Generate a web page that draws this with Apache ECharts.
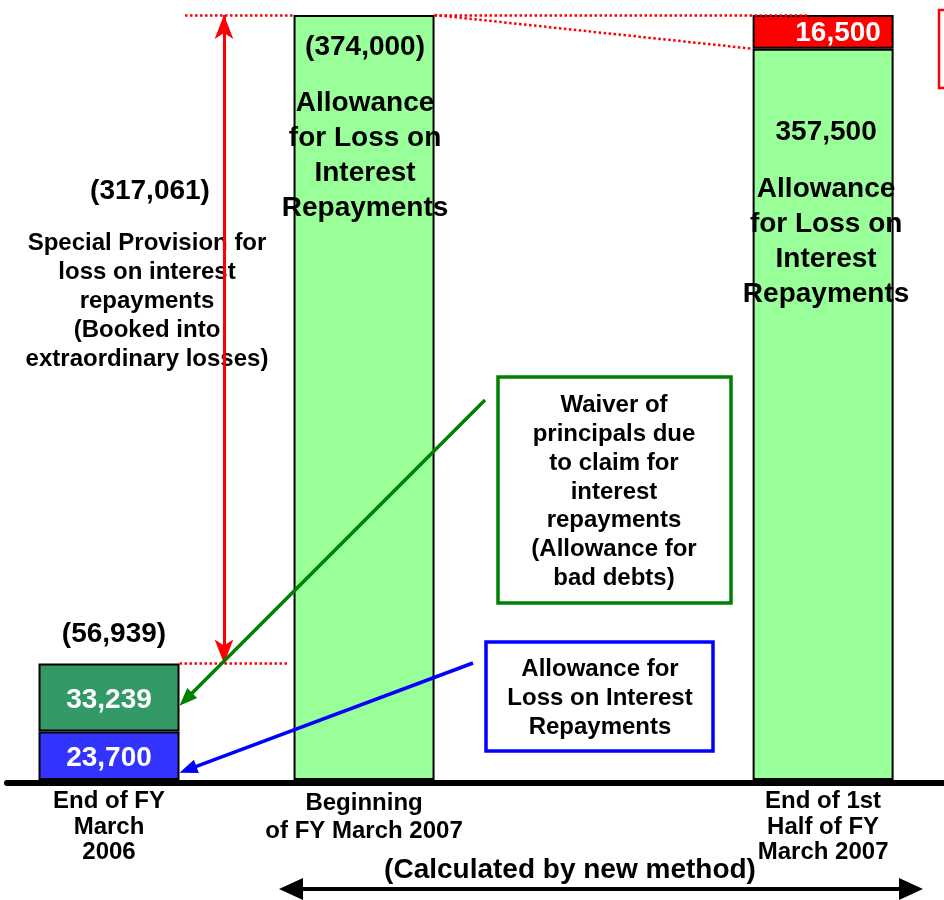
<!DOCTYPE html>
<html>
<head>
<meta charset="utf-8">
<script src="https://cdn.jsdelivr.net/npm/echarts@6/dist/echarts.min.js"></script>
<style>
  html, body { margin: 0; padding: 0; background: #fff; }
  #chart { width: 944px; height: 900px; }
</style>
</head>
<body>
<div id="chart"></div>
<script>
// Allowance balances (million yen) at three reporting dates
const categories = [
  'End of FY\nMarch\n2006',
  'Beginning\nof FY March 2007',
  'End of 1st\nHalf of FY\nMarch 2007'
];
const interestAllowanceOld = [23700, '-', '-'];      // blue segment
const badDebtAllowance     = [33239, '-', '-'];      // dark green segment
const interestAllowanceNew = ['-', 374000, 357500];  // light green bars
const reversalAmount       = ['-', '-', 16500];      // red segment

// Layout: slot of each date on the horizontal axis, bar half width in axis units
const SLOT = [0, 5, 14];
const X_MIN = -2, X_MAX = 16.37;
const BAR_PX = 141;
const HALF = (BAR_PX / 2) / (937 / (X_MAX - X_MIN));

const FONT = '"Liberation Sans", Arial, sans-serif';
const fmt = v => Number(v).toLocaleString('en-US');

const total2006 = interestAllowanceOld[0] + badDebtAllowance[0];
const totalNew = interestAllowanceNew[1];
const specialProvision = totalNew - total2006;

// Rows are [amount, slot] so the amount is the stacked dimension
const rows = arr => arr.map((v, i) => [v, SLOT[i]]);
const ENCODE = { x: 1, y: 0 };

const chart = echarts.init(document.getElementById('chart'), null, { renderer: 'canvas' });

const baseBar = {
  type: 'bar',
  stack: 'total',
  barWidth: BAR_PX,
  animation: false,
  encode: ENCODE,
  itemStyle: { borderColor: '#000', borderWidth: 2 }
};

const whiteLabel = {
  show: true,
  position: 'inside',
  offset: [0, 3],
  color: '#fff',
  fontFamily: FONT,
  fontWeight: 'bold',
  fontSize: 28,
  formatter: p => fmt(p.value[0])
};

const richBlock = {
  v: { fontFamily: FONT, fontWeight: 'bold', fontSize: 28, lineHeight: 34, color: '#000' },
  s: { fontSize: 1, lineHeight: 22 },
  t: { fontFamily: FONT, fontWeight: 'bold', fontSize: 28, lineHeight: 35, color: '#000' }
};
const blockText = '{t|Allowance}\n{t|for Loss on}\n{t|Interest}\n{t|Repayments}';

const axisRich = {
  a: { fontFamily: FONT, fontWeight: 'bold', fontSize: 24, lineHeight: 25.5, color: '#000' },
  b: { fontFamily: FONT, fontWeight: 'bold', fontSize: 24, lineHeight: 28, color: '#000' }
};

chart.setOption({
  animation: false,
  grid: { left: 7, right: 0, top: 15, bottom: 120 },
  xAxis: {
    type: 'value',
    min: X_MIN,
    max: X_MAX,
    offset: 3,
    splitLine: { show: false },
    axisTick: { show: false },
    axisLine: { show: true, onZero: false, lineStyle: { color: '#000', width: 6 } },
    axisLabel: {
      customValues: SLOT,
      margin: 6,
      rich: axisRich,
      formatter: v => {
        const i = SLOT.indexOf(v);
        if (i < 0) return '';
        const key = categories[i].split('\n').length === 2 ? 'b' : 'a';
        return categories[i].split('\n').map(l => '{' + key + '|' + l + '}').join('\n');
      }
    }
  },
  yAxis: { type: 'value', min: 0, max: totalNew, show: false },
  series: [
    Object.assign({}, baseBar, {
      name: 'Allowance for Loss on Interest Repayments',
      data: rows(interestAllowanceOld),
      itemStyle: { color: '#3333ff', borderColor: '#000', borderWidth: 2 },
      label: whiteLabel,
      markLine: {
        silent: true,
        animation: false,
        symbol: ['arrow', 'arrow'],
        symbolSize: [14, 24],
        label: { show: false },
        lineStyle: { color: '#ff0000', type: 'solid', width: 3 },
        data: [[{ coord: [2.254, totalNew] }, { coord: [2.254, total2006] }]]
      }
    }),
    Object.assign({}, baseBar, {
      name: 'Allowance for bad debts',
      data: rows(badDebtAllowance),
      itemStyle: { color: '#339966', borderColor: '#000', borderWidth: 2 },
      label: whiteLabel
    }),
    Object.assign({}, baseBar, {
      name: 'Allowance for Loss on Interest Repayments (new method)',
      data: interestAllowanceNew.map((v, i) => ({
        value: [v, SLOT[i]],
        label: { distance: i === 1 ? 15 : 67, offset: [i === 1 ? 1 : 3, 0] }
      })),
      itemStyle: { color: '#99ff99', borderColor: '#000', borderWidth: 2 },
      label: {
        show: true,
        position: 'insideTop',
        align: 'center',
        formatter: p => {
          const s = p.dataIndex === 1 ? '(' + fmt(p.value[0]) + ')' : fmt(p.value[0]);
          return '{v|' + s + '}\n{s| }\n' + blockText;
        },
        rich: richBlock
      },
      markLine: {
        silent: true,
        animation: false,
        symbol: 'none',
        label: { show: false },
        lineStyle: { color: '#ff0000', type: 'dotted', width: 2.5 },
        data: [
          [{ coord: [1.49, totalNew] }, { coord: [SLOT[1] - HALF, totalNew] }],
          [{ coord: [SLOT[1] + HALF, totalNew] }, { coord: [13.74, totalNew] }],
          [{ coord: [SLOT[1] + HALF, totalNew] }, { coord: [SLOT[2] - HALF, interestAllowanceNew[2]] }],
          [{ coord: [SLOT[0] + HALF, total2006] }, { coord: [3.49, total2006] }]
        ]
      }
    }),
    Object.assign({}, baseBar, {
      name: 'Reversal',
      data: rows(reversalAmount),
      itemStyle: { color: '#ff0000', borderColor: '#000', borderWidth: 2 },
      label: Object.assign({}, whiteLabel, { offset: [15, 1] })
    }),
    {
      type: 'scatter',
      name: 'Total',
      symbolSize: 0,
      silent: true,
      itemStyle: { opacity: 1 },
      data: [[SLOT[0], total2006]],
      label: {
        show: true,
        position: 'top',
        distance: 15,
        offset: [5, 0],
        color: '#000',
        opacity: 1,
        fontFamily: FONT,
        fontWeight: 'bold',
        fontSize: 28,
        formatter: p => '(' + fmt(p.value[1]) + ')'
      }
    }
  ]
});

// Annotation graphics: callout boxes, pointer arrows and notes
function arrowEls(x1, y1, x2, y2, color, width, headLen, headW, both) {
  const els = [];
  const ang = Math.atan2(y2 - y1, x2 - x1);
  const cos = Math.cos(ang), sin = Math.sin(ang);
  const head = (tx, ty, dir) => {
    const bx = tx - dir * cos * headLen, by = ty - dir * sin * headLen;
    return {
      type: 'polygon', z: 100,
      shape: { points: [[tx, ty], [bx - sin * headW / 2, by + cos * headW / 2], [bx + sin * headW / 2, by - cos * headW / 2]] },
      style: { fill: color }
    };
  };
  const sx = both ? x1 + cos * headLen * 0.8 : x1, sy = both ? y1 + sin * headLen * 0.8 : y1;
  const ex = x2 - cos * headLen * 0.8, ey = y2 - sin * headLen * 0.8;
  els.push({ type: 'line', z: 100, shape: { x1: sx, y1: sy, x2: ex, y2: ey }, style: { stroke: color, lineWidth: width } });
  els.push(head(x2, y2, 1));
  if (both) els.push(head(x1, y1, -1));
  return els;
}

const toPx = pt => chart.convertToPixel({ gridIndex: 0 }, pt);
const greenTip = toPx([SLOT[0] + HALF, interestAllowanceOld[0] + badDebtAllowance[0] * 0.38]);
const blueTip = toPx([SLOT[0] + HALF, interestAllowanceOld[0] * 0.15]);

const textStyle = (text, x, y, size, lh) => ({
  type: 'text', z: 1,
  style: {
    text: text, x: x, y: y,
    align: 'center', verticalAlign: 'middle',
    fontFamily: FONT, fontWeight: 'bold', fontSize: size, lineHeight: lh,
    fill: '#000'
  }
});

const elements = [
  // callout boxes
  { type: 'rect', z: 90, shape: { x: 498, y: 377, width: 233, height: 226 }, style: { fill: '#fff', stroke: '#008000', lineWidth: 3.5 } },
  { type: 'rect', z: 90, shape: { x: 486, y: 642, width: 227, height: 109 }, style: { fill: '#fff', stroke: '#0000ff', lineWidth: 3.5 } },
  { type: 'rect', z: 90, shape: { x: 939, y: 10, width: 20, height: 78 }, style: { fill: '#fff', stroke: '#ff0000', lineWidth: 2.5 } },
  Object.assign(textStyle('Waiver of\nprincipals due\nto claim for\ninterest\nrepayments\n(Allowance for\nbad debts)', 614, 492, 24, 28.8), { z: 95 }),
  Object.assign(textStyle('Allowance for\nLoss on Interest\nRepayments', 600, 698, 24, 29), { z: 95 }),
  // special provision note
  textStyle('(' + fmt(specialProvision) + ')', 150, 191, 28, 34),
  textStyle('Special Provision for\nloss on interest\nrepayments\n(Booked into\nextraordinary losses)', 147, 301, 24, 29),
  // bottom caption
  textStyle('(Calculated by new method)', 570, 870, 28, 34)
].concat(
  arrowEls(485, 400, greenTip[0], greenTip[1], '#008000', 3.5, 18, 14, false),
  arrowEls(473, 663, blueTip[0], blueTip[1], '#0000ff', 3.5, 18, 14, false),
  arrowEls(279, 889, 923, 889, '#000', 4, 24, 22, true)
);

chart.setOption({ graphic: { elements: elements } });
</script>
</body>
</html>
